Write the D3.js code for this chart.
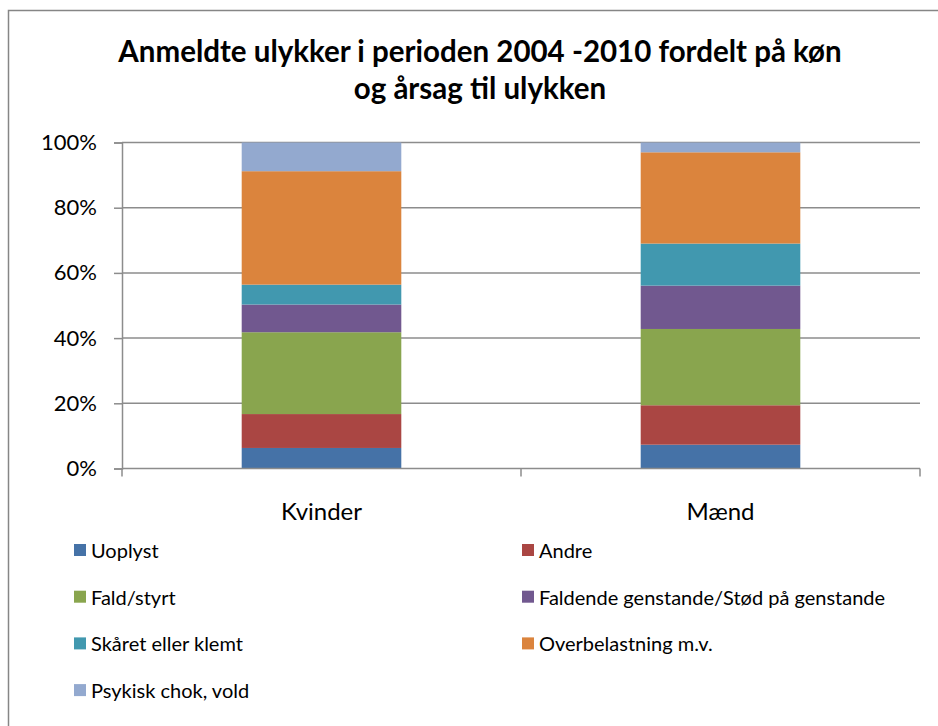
<!DOCTYPE html>
<html>
<head>
<meta charset="utf-8">
<script src="https://cdn.jsdelivr.net/npm/d3@7"></script>
<style>
  body { margin: 0; background: #fff; }
  text { font-family: Lato, "Open Sans", sans-serif; fill: #000; }
</style>
</head>
<body>
<div class="chart"></div>
<script>
// chart data
var categories = ["Kvinder", "Mænd"];
var causes = ["Uoplyst", "Andre", "Fald/styrt", "Faldende genstande/Stød på genstande",
              "Skåret eller klemt", "Overbelastning m.v.", "Psykisk chok, vold"];
var kvinderValues = [6.3, 10.4, 25.1, 8.5, 6.1, 34.8, 8.8];
var maendValues = [7.3, 12.1, 23.4, 13.3, 12.9, 28.0, 3.0];
var colors = ["#4572A7", "#AA4643", "#89A54E", "#71588F", "#4198AF", "#DB843D", "#93A9CF"];
var yTicks = [0, 0.2, 0.4, 0.6, 0.8, 1];
var titleLines = ["Anmeldte ulykker i perioden 2004 -2010 fordelt på køn", "og årsag til ulykken"];

var svgWidth = 938;
var svgHeight = 726;
var margin = { top: 142.5, right: 18, bottom: 257.5, left: 122 };
var width = svgWidth - margin.left - margin.right;
var height = svgHeight - margin.top - margin.bottom;

var svg = d3.select(".chart")
            .append("svg")
            .attr("width", svgWidth)
            .attr("height", svgHeight);

svg.append("rect")
   .attr("width", svgWidth)
   .attr("height", svgHeight)
   .attr("fill", "#fff");

// outer chart border
svg.append("rect")
   .attr("x", 8.5)
   .attr("y", 10.5)
   .attr("width", 960)
   .attr("height", 760)
   .attr("fill", "none")
   .attr("stroke", "#868686")
   .attr("stroke-width", 1.5);

// title
svg.append("g")
   .selectAll("text")
   .data(titleLines)
   .enter()
   .append("text")
   .attr("x", 480)
   .attr("y", (d, i) => 62 + i * 36.5)
   .attr("text-anchor", "middle")
   .style("font-size", "29.5px")
   .style("font-weight", "bold")
   .text(d => d);

var chartGroup = svg.append("g")
                    .attr("transform", `translate(${margin.left}, ${margin.top})`);

// stack the data as percentages
var rows = categories.map(function (c, i) {
  var vals = i === 0 ? kvinderValues : maendValues;
  var total = d3.sum(vals);
  var row = { cat: c };
  causes.forEach((k, j) => row[k] = vals[j] / total);
  return row;
});
var series = d3.stack().keys(causes)(rows);

var xScale = d3.scaleBand()
  .domain(categories)
  .range([0, width])
  .paddingInner(0.6)
  .paddingOuter(0.3);

var xCat = d3.scaleBand()
  .domain(categories)
  .range([0, width]);

var yScale = d3.scaleLinear()
  .domain([0, 1])
  .range([height, 0]);

// gridlines
chartGroup.append("g")
  .selectAll("line")
  .data(yTicks.slice(1))
  .enter()
  .append("line")
  .attr("x1", 0)
  .attr("x2", width)
  .attr("y1", d => yScale(d))
  .attr("y2", d => yScale(d))
  .attr("stroke", "#8c8c8c")
  .attr("stroke-width", 1.5);

// bars
chartGroup.append("g")
  .selectAll("g")
  .data(series)
  .enter()
  .append("g")
  .attr("fill", (d, i) => colors[i])
  .selectAll("rect")
  .data(d => d)
  .enter()
  .append("rect")
  .attr("x", d => xScale(d.data.cat))
  .attr("y", d => yScale(d[1]))
  .attr("width", xScale.bandwidth())
  .attr("height", d => yScale(d[0]) - yScale(d[1]));

// y axis
var leftAxis = d3.axisLeft(yScale)
  .tickValues(yTicks)
  .tickFormat(d3.format(".0%"))
  .tickSize(8)
  .tickPadding(17);

var yAxisG = chartGroup.append("g").call(leftAxis);
yAxisG.select(".domain").attr("stroke", "#8c8c8c").attr("stroke-width", 1.5);
yAxisG.selectAll(".tick line").attr("stroke", "#8c8c8c").attr("stroke-width", 1.5);
yAxisG.selectAll(".tick text")
  .style("font-size", "22px")
  .style("font-family", "Lato, sans-serif")
  .attr("fill", "#000");

// x axis: baseline, boundary ticks, category labels
chartGroup.append("line")
  .attr("x1", 0)
  .attr("x2", width)
  .attr("y1", height)
  .attr("y2", height)
  .attr("stroke", "#8c8c8c")
  .attr("stroke-width", 1.5);

var bounds = categories.map(c => xCat(c)).concat([width]);
chartGroup.append("g")
  .selectAll("line")
  .data(bounds)
  .enter()
  .append("line")
  .attr("x1", d => d)
  .attr("x2", d => d)
  .attr("y1", height)
  .attr("y2", height + 8)
  .attr("stroke", "#8c8c8c")
  .attr("stroke-width", 1.5);

chartGroup.append("g")
  .selectAll("text")
  .data(categories)
  .enter()
  .append("text")
  .attr("x", d => xCat(d) + xCat.bandwidth() / 2)
  .attr("y", height + 42)
  .attr("text-anchor", "middle")
  .attr("dominant-baseline", "central")
  .style("font-size", "24px")
  .text(d => d);

// legend, two columns
var legend = svg.append("g")
  .selectAll("g")
  .data(causes)
  .enter()
  .append("g")
  .attr("transform", (d, i) => `translate(${i % 2 === 0 ? 74 : 522}, ${550 + Math.floor(i / 2) * 46.7})`);

legend.append("rect")
  .attr("x", 0)
  .attr("y", -6)
  .attr("width", 12)
  .attr("height", 12)
  .attr("fill", (d, i) => colors[i]);

legend.append("text")
  .attr("x", 17)
  .attr("y", 0)
  .attr("dominant-baseline", "central")
  .style("font-size", "20px")
  .text(d => d);
</script>
</body>
</html>
